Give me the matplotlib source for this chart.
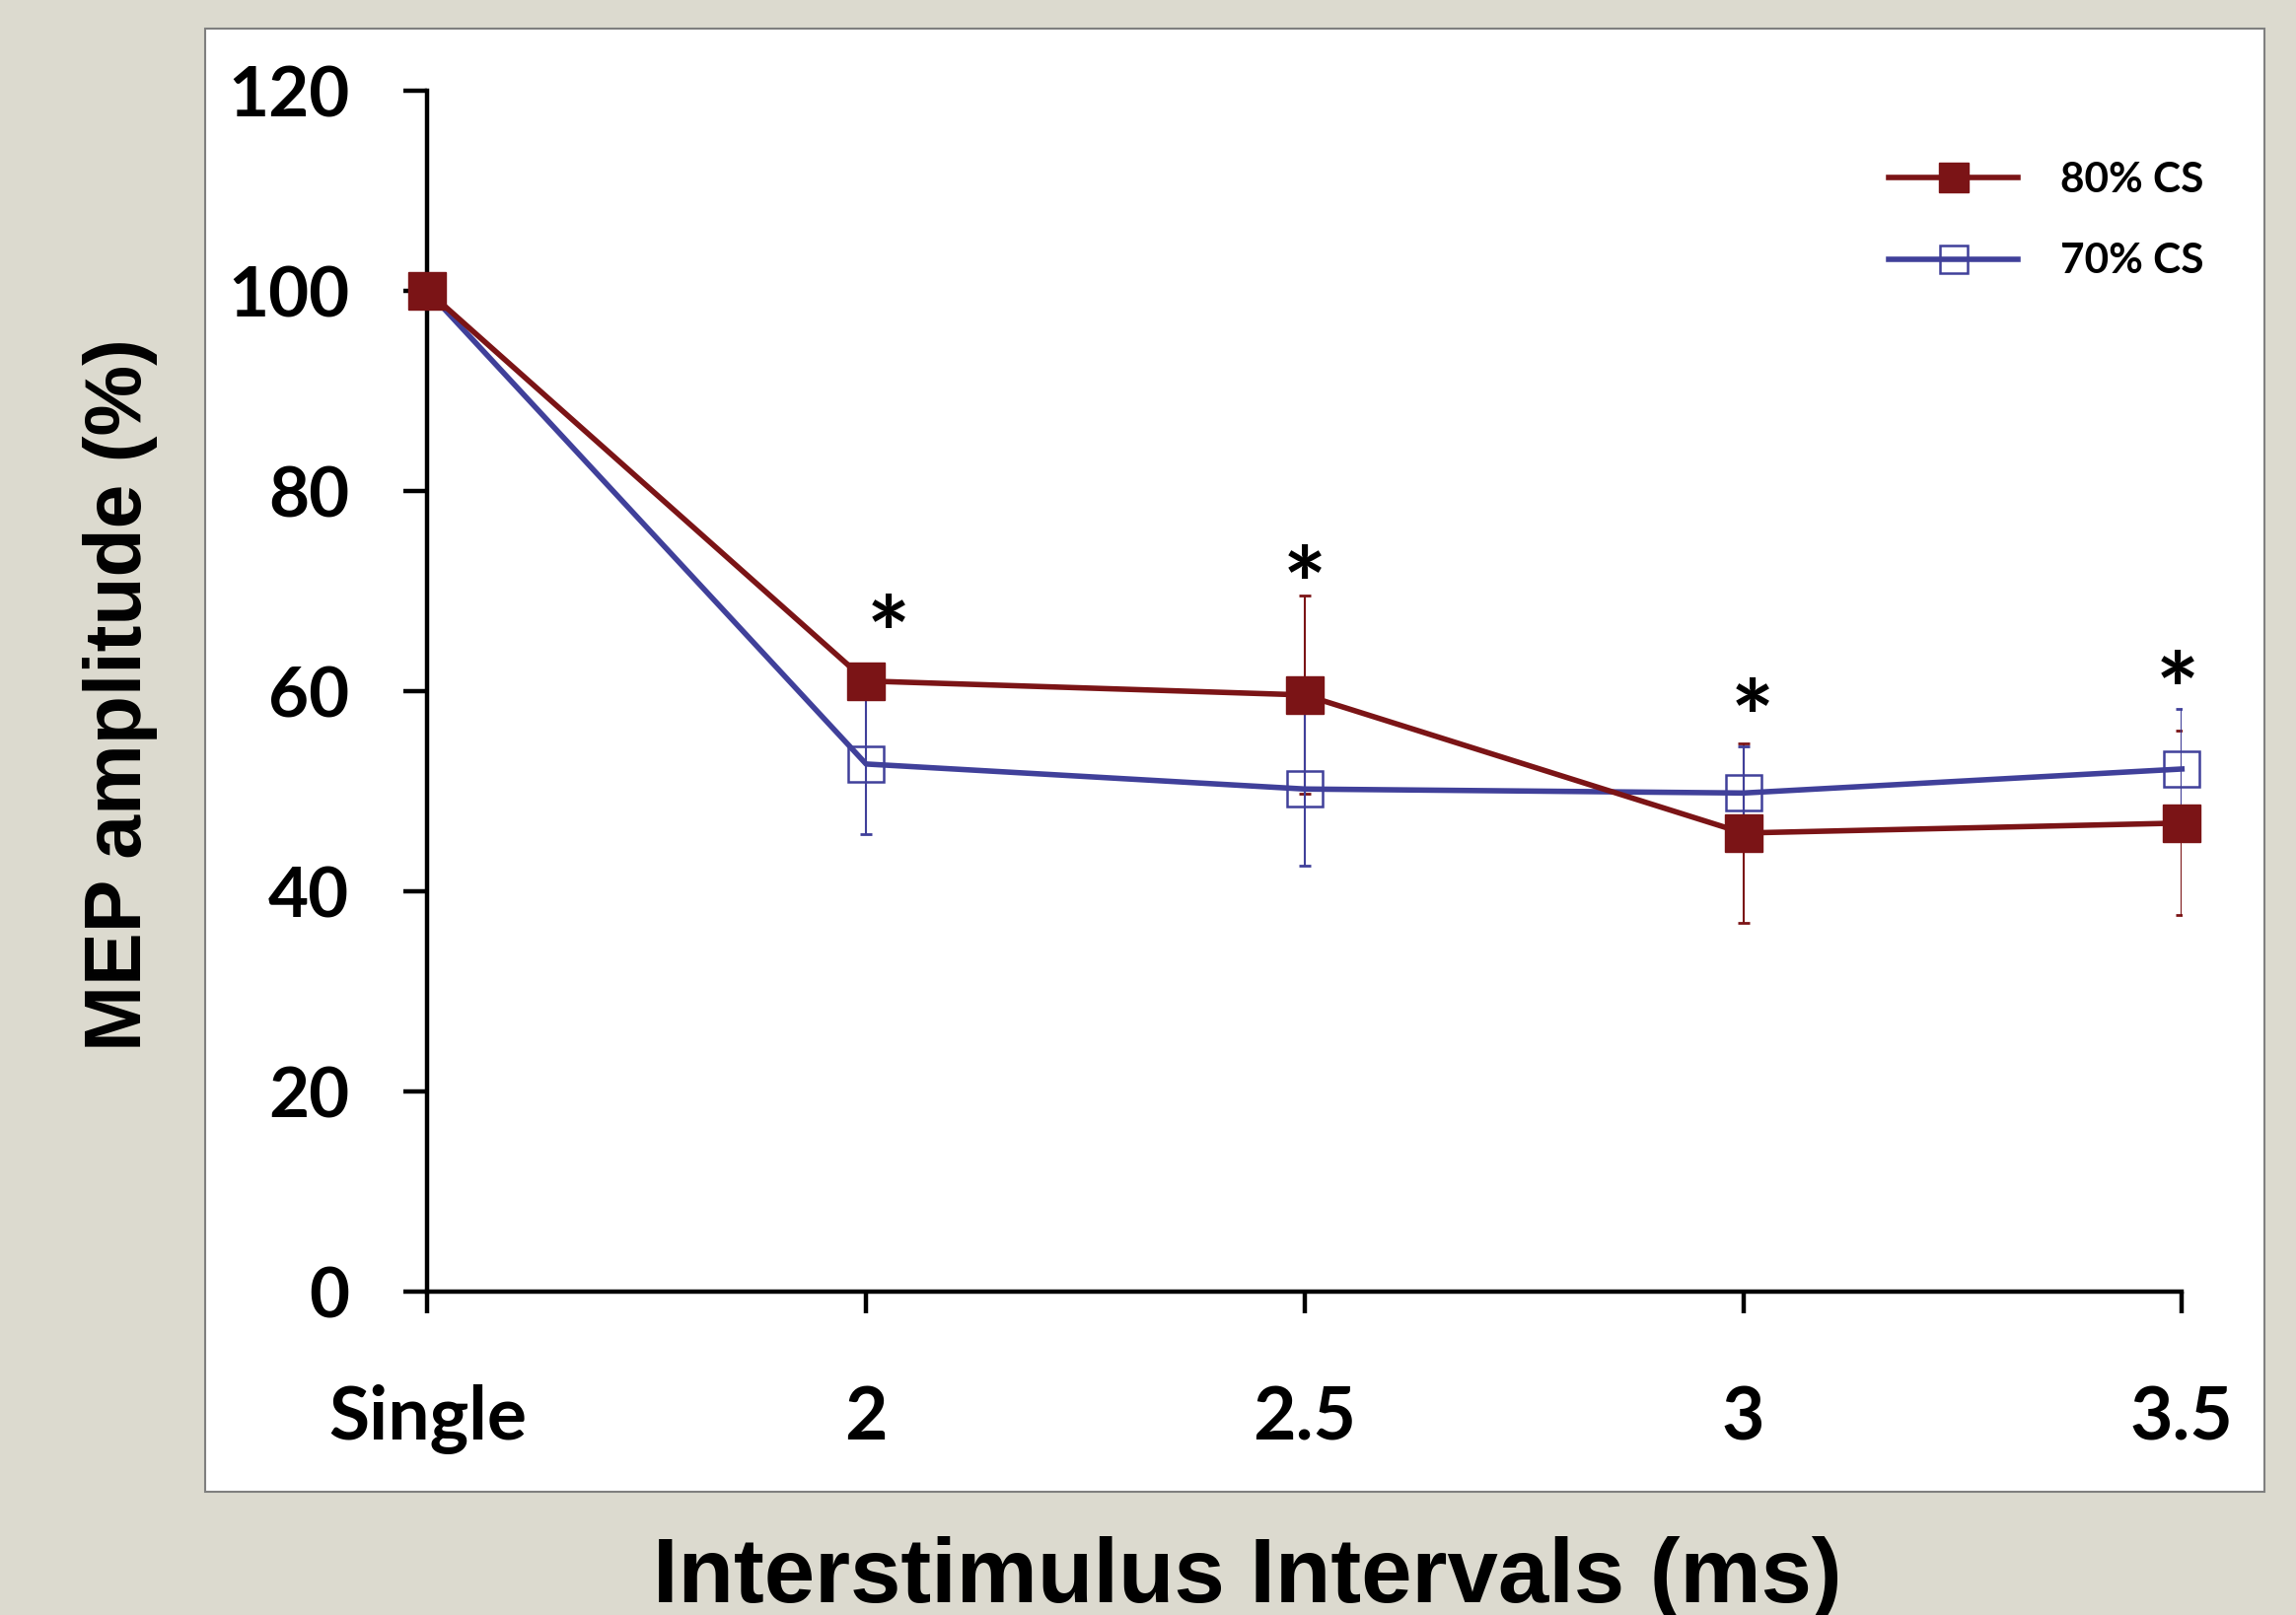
import numpy as np
import matplotlib
matplotlib.use("Agg")
import matplotlib.pyplot as plt
from matplotlib.patches import Rectangle

# data
intervals = ["Single", "2", "2.5", "3", "3.5"]
cs80 = [100, 61.0, 59.6, 45.8, 46.8]
cs80_err = [0, 1.5, 9.9, 9.0, 9.2]
cs70 = [100, 52.7, 50.2, 49.8, 52.2]
cs70_err = [0, 7.0, 7.7, 4.7, 6.0]
star_x = [1.05, 2.0, 3.02, 3.99]
star_y = [68.0, 72.9, 59.6, 62.4]

red = "#7b1416"
blue = "#40409a"
bg = "#dcdacf"

fig = plt.figure(figsize=(23.28, 16.38), dpi=100, facecolor=bg)

# white panel behind the plot
fig.patches.append(Rectangle((208 / 2328, 1 - 1513 / 1638), (2296 - 208) / 2328, (1513 - 29) / 1638,
                             transform=fig.transFigure, facecolor="white", edgecolor="#7f7f7f",
                             linewidth=1.5, zorder=-1))

ax = fig.add_axes([0.1862, 0.2005, 0.7641, 0.7433])
ax.set_facecolor("none")
x = np.arange(len(intervals))

ax.errorbar(x, cs80, yerr=cs80_err, fmt="none", ecolor=red, elinewidth=1.5, capsize=4, capthick=2, zorder=2)
ax.errorbar(x, cs70, yerr=cs70_err, fmt="none", ecolor=blue, elinewidth=1.5, capsize=4, capthick=2, zorder=2)

ax.plot(x, cs70, color=blue, lw=4, marker="s", ms=26, mfc="none", mec=blue, mew=1.8,
        label="70% CS", zorder=3, clip_on=False)
ax.plot(x, cs80, color=red, lw=4, marker="s", ms=27, mfc=red, mec=red,
        label="80% CS", zorder=4, clip_on=False)

# significance stars, glyph sits high in its box so nudge it down
for sx, sy in zip(star_x, star_y):
    ax.annotate("*", (sx, sy), xytext=(0, -22), textcoords="offset points",
                ha="center", va="center", fontsize=75, fontweight="bold",
                family="Lato", color="black")

ax.set_xlim(0, 4)
ax.set_ylim(0, 120)
ax.set_yticks(np.arange(0, 121, 20))
ax.set_xticks(x)
ax.set_xticklabels(intervals)

for s in ["top", "right"]:
    ax.spines[s].set_visible(False)
for s in ["left", "bottom"]:
    ax.spines[s].set_linewidth(3.2)
    ax.spines[s].set_color("black")

ax.tick_params(axis="y", direction="out", length=17, width=3.2, pad=40)
ax.tick_params(axis="x", direction="out", length=16, width=3.2, pad=52)
for lab in ax.get_yticklabels():
    lab.set_family("Lato")
    lab.set_fontweight("bold")
    lab.set_fontsize(51)
for lab in ax.get_xticklabels():
    lab.set_family("Lato")
    lab.set_fontweight("bold")
    lab.set_fontsize(54)

handles, labels = ax.get_legend_handles_labels()
leg = ax.legend(handles[::-1], labels[::-1], loc="upper left",
                bbox_to_anchor=(1915 / 2328, 0.8999), bbox_transform=fig.transFigure,
                frameon=False, borderpad=0, borderaxespad=0, handlelength=3.1,
                handletextpad=1.0, labelspacing=1.05, markerscale=0.8,
                prop={"family": "Lato", "weight": "bold", "size": 30.5})

fig.text(0.0524, 0.5696, "MEP amplitude (%)", rotation=90, ha="center", va="center",
         family="Liberation Sans", fontweight="bold", fontsize=58)
fig.text(0.5434, 0.0079, "Interstimulus Intervals (ms)", ha="center", va="baseline",
         family="Liberation Sans", fontweight="bold", fontsize=66.5)

fig.savefig("out.png", dpi=100, facecolor=bg)
